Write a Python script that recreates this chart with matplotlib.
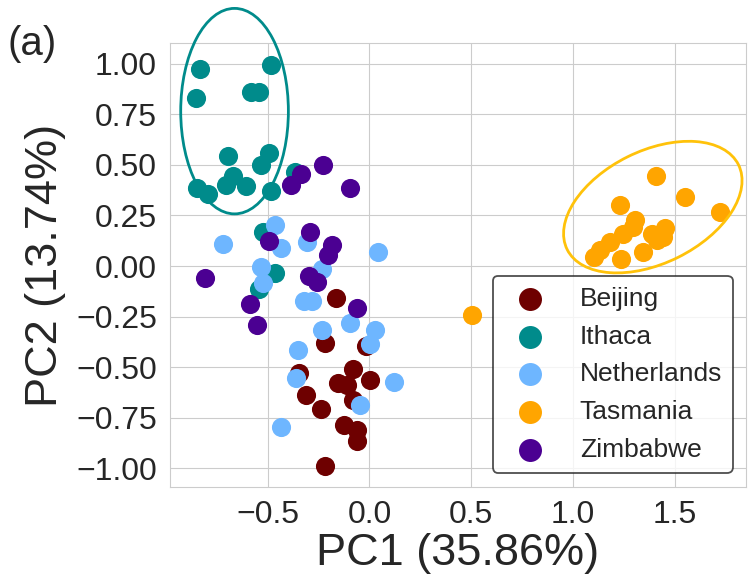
import matplotlib
matplotlib.use('Agg')
import matplotlib.pyplot as plt
import matplotlib.ticker as tick
from matplotlib.patches import Ellipse
import seaborn as sns

sns.set_style('whitegrid')
plt.rcParams['font.family'] = ['Liberation Sans', 'DejaVu Sans']

# PCA scores, per site
beijing_x = [-0.164, -0.018, -0.218, -0.344, -0.079, -0.155, -0.111, 0.003,
             -0.311, -0.082, -0.239, -0.123, -0.062, -0.062, -0.221]
beijing_y = [-0.156, -0.394, -0.379, -0.530, -0.509, -0.576, -0.588, -0.563,
             -0.637, -0.662, -0.707, -0.785, -0.809, -0.862, -0.990]

ithaca_x = [-0.835, -0.483, -0.853, -0.583, -0.541, -0.696, -0.492, -0.534, -0.672,
            -0.849, -0.795, -0.705, -0.606, -0.483, -0.365, -0.524, -0.464, -0.541]
ithaca_y = [0.975, 0.995, 0.832, 0.862, 0.862, 0.542, 0.558, 0.501, 0.443,
            0.384, 0.357, 0.398, 0.394, 0.369, 0.463, 0.167, -0.034, -0.116]

nl_x = [-0.464, -0.718, -0.436, -0.305, 0.044, -0.532, -0.231, -0.521, -0.321, -0.283,
        -0.095, -0.234, 0.025, 0.003, -0.352, -0.362, 0.118, -0.046, -0.433]
nl_y = [0.204, 0.110, 0.089, 0.118, 0.069, -0.005, -0.013, -0.084, -0.172, -0.172,
        -0.281, -0.317, -0.317, -0.387, -0.415, -0.552, -0.574, -0.686, -0.796]

tas_x = [0.503, 1.410, 1.552, 1.721, 1.229, 1.306, 1.295, 1.246, 1.183,
         1.131, 1.101, 1.236, 1.344, 1.388, 1.454, 1.443, 1.413]
tas_y = [-0.243, 0.447, 0.340, 0.269, 0.302, 0.228, 0.192, 0.156, 0.118,
         0.077, 0.044, 0.033, 0.069, 0.160, 0.189, 0.143, 0.127]

zim_x = [-0.336, -0.229, -0.385, -0.098, -0.292, -0.493, -0.182, -0.202,
         -0.808, -0.296, -0.256, -0.587, -0.062, -0.551]
zim_y = [0.455, 0.500, 0.398, 0.384, 0.167, 0.123, 0.102, 0.053,
         -0.059, -0.049, -0.079, -0.190, -0.205, -0.292]

sites = ['Beijing', 'Ithaca', 'Netherlands', 'Tasmania', 'Zimbabwe']
xs = [beijing_x, ithaca_x, nl_x, tas_x, zim_x]
ys = [beijing_y, ithaca_y, nl_y, tas_y, zim_y]
colors = ['#6E0000', '#008B8B', '#6EB6FF', '#FFA500', '#4B0092']

# cluster ellipses: centre, width, height, angle
ith_ell = [(-0.663, 0.765), 0.529, 1.015, 0.0]
tas_ell = [(1.392, 0.291), 0.94, 0.555, 26.5]

fig = plt.figure(figsize=(7.5, 5.83), dpi=100)
ax = fig.add_axes([0.2267, 0.1652, 0.768, 0.7605])

for x, y, c, lab in zip(xs, ys, colors, sites):
    ax.scatter(x, y, s=190, color=c, linewidths=0, label=lab, zorder=3)

for ell, c in [(ith_ell, '#008B8B'), (tas_ell, '#FFC20A')]:
    e = Ellipse(ell[0], ell[1], ell[2], angle=ell[3], fill=False,
                edgecolor=c, linewidth=2, clip_on=False, zorder=4)
    ax.add_patch(e)

ax.set_xlim(-0.98, 1.85)
ax.set_ylim(-1.09, 1.10)
ax.xaxis.set_major_locator(tick.MultipleLocator(0.5))
ax.yaxis.set_major_locator(tick.MultipleLocator(0.25))
ax.tick_params(labelsize=23, colors='#262626', pad=6)
ax.set_xlabel('PC1 (35.86%)', fontsize=32.5, color='#262626', labelpad=2)
ax.set_ylabel('PC2 (13.74%)', fontsize=32.5, color='#262626', labelpad=7)

leg = ax.legend(loc='lower right', bbox_to_anchor=(0.977, 0.0316), borderaxespad=0,
                fontsize=19, markerscale=1.2, labelspacing=0.525, handletextpad=0.9,
                borderpad=0.4, frameon=True)
leg.get_frame().set_edgecolor('#222222')
leg.get_frame().set_linewidth(1.3)
for t in leg.get_texts():
    t.set_color('#262626')

fig.text(0.01, 0.925, '(a)', fontsize=29, va='center', ha='left')

fig.savefig('out.png', dpi=100)
